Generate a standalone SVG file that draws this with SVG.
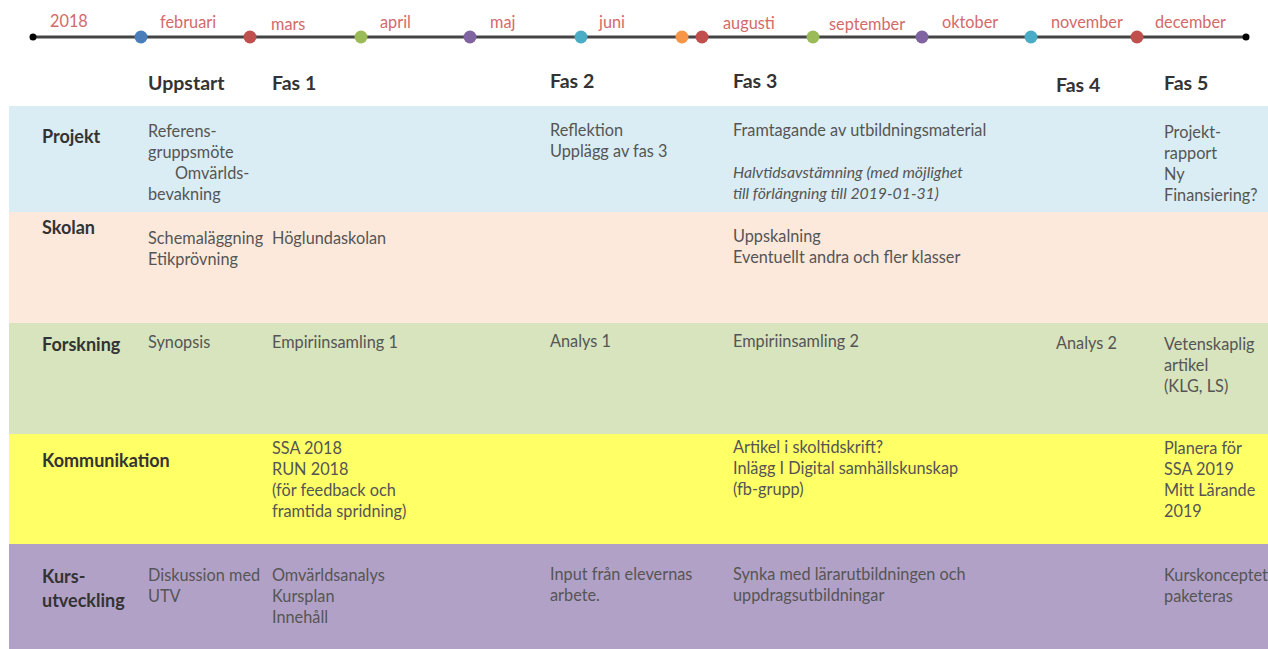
<svg xmlns="http://www.w3.org/2000/svg" width="1268" height="649" viewBox="0 0 1268 649">
<style>
.m{font-family:Lato,"Liberation Sans",sans-serif;font-size:16.3px;fill:#d36a6a}
.h{font-family:Lato,"Liberation Sans",sans-serif;font-size:19.5px;font-weight:bold;fill:#333}
.r{font-family:Lato,"Liberation Sans",sans-serif;font-size:18px;font-weight:bold;fill:#333}
.t{font-family:Lato,"Liberation Sans",sans-serif;font-size:16.3px;fill:#555}
.i{font-style:italic;font-size:15.8px}
</style>
<rect width="1268" height="649" fill="#fff"/>
<g id="bands">
<rect x="9" y="106" width="1259" height="106" fill="#daedf4"/>
<rect x="9" y="212" width="1259" height="111" fill="#fde9db"/>
<rect x="9" y="323" width="1259" height="111" fill="#d7e4bd"/>
<rect x="9" y="434" width="1259" height="110" fill="#ffff66"/>
<rect x="9" y="544" width="1259" height="105" fill="#b2a1c7"/>
</g>
<g id="timeline">
<line x1="33" y1="37" x2="1246" y2="37" stroke="#444" stroke-width="3"/>
<circle cx="33" cy="37" r="3.5" fill="#000"/>
<circle cx="1246" cy="37" r="3.5" fill="#000"/>
<circle cx="141" cy="37" r="6.5" fill="#4a7ebb"/>
<circle cx="250" cy="37" r="6.5" fill="#c0504d"/>
<circle cx="361" cy="37" r="6.5" fill="#9bbb59"/>
<circle cx="470" cy="37" r="6.5" fill="#8064a2"/>
<circle cx="581" cy="37" r="6.5" fill="#4bacc6"/>
<circle cx="682" cy="37" r="6.5" fill="#f79646"/>
<circle cx="702" cy="37" r="6.5" fill="#c0504d"/>
<circle cx="813" cy="37" r="6.5" fill="#9bbb59"/>
<circle cx="922" cy="37" r="6.5" fill="#8064a2"/>
<circle cx="1031" cy="37" r="6.5" fill="#4bacc6"/>
<circle cx="1137" cy="37" r="6.5" fill="#c0504d"/>
<text class="m" x="50" y="27">2018</text>
<text class="m" x="160" y="28">februari</text>
<text class="m" x="271" y="30">mars</text>
<text class="m" x="380" y="28">april</text>
<text class="m" x="490" y="28">maj</text>
<text class="m" x="599" y="28">juni</text>
<text class="m" x="723" y="29">augusti</text>
<text class="m" x="829" y="30">september</text>
<text class="m" x="942" y="28">oktober</text>
<text class="m" x="1051" y="28">november</text>
<text class="m" x="1155" y="28">december</text>
</g>
<g id="headers">
<text class="h" x="148" y="90">Uppstart</text>
<text class="h" x="272" y="90">Fas 1</text>
<text class="h" x="550" y="88">Fas 2</text>
<text class="h" x="733" y="88">Fas 3</text>
<text class="h" x="1056" y="92">Fas 4</text>
<text class="h" x="1164" y="90">Fas 5</text>
</g>
<g id="projekt">
<text class="r" x="42" y="143">Projekt</text>
<text class="t" x="148" y="137">Referens-</text>
<text class="t" x="148" y="158">gruppsmöte</text>
<text class="t" x="175" y="179">Omvärlds-</text>
<text class="t" x="148" y="200">bevakning</text>
<text class="t" x="550" y="136">Reflektion</text>
<text class="t" x="550" y="157">Upplägg av fas 3</text>
<text class="t" x="733" y="136">Framtagande av utbildningsmaterial</text>
<text class="t i" x="733" y="178">Halvtidsavstämning (med möjlighet</text>
<text class="t i" x="733" y="199">till förlängning till 2019-01-31)</text>
<text class="t" x="1164" y="138">Projekt-</text>
<text class="t" x="1164" y="159">rapport</text>
<text class="t" x="1164" y="180">Ny</text>
<text class="t" x="1164" y="201">Finansiering?</text>
</g>
<g id="skolan">
<text class="r" x="42" y="234">Skolan</text>
<text class="t" x="148" y="244">Schemaläggning</text>
<text class="t" x="148" y="265">Etikprövning</text>
<text class="t" x="272" y="244">Höglundaskolan</text>
<text class="t" x="733" y="242">Uppskalning</text>
<text class="t" x="733" y="263">Eventuellt andra och fler klasser</text>
</g>
<g id="forskning">
<text class="r" x="42" y="351">Forskning</text>
<text class="t" x="148" y="348">Synopsis</text>
<text class="t" x="272" y="348">Empiriinsamling 1</text>
<text class="t" x="550" y="347">Analys 1</text>
<text class="t" x="733" y="347">Empiriinsamling 2</text>
<text class="t" x="1056" y="349">Analys 2</text>
<text class="t" x="1164" y="350">Vetenskaplig</text>
<text class="t" x="1164" y="371">artikel</text>
<text class="t" x="1164" y="392">(KLG, LS)</text>
</g>
<g id="kommunikation">
<text class="r" x="42" y="467">Kommunikation</text>
<text class="t" x="272" y="454">SSA 2018</text>
<text class="t" x="272" y="475">RUN 2018</text>
<text class="t" x="272" y="496">(för feedback och</text>
<text class="t" x="272" y="517">framtida spridning)</text>
<text class="t" x="733" y="453">Artikel i skoltidskrift?</text>
<text class="t" x="733" y="474">Inlägg I Digital samhällskunskap</text>
<text class="t" x="733" y="495">(fb-grupp)</text>
<text class="t" x="1164" y="454">Planera för</text>
<text class="t" x="1164" y="475">SSA 2019</text>
<text class="t" x="1164" y="496">Mitt Lärande</text>
<text class="t" x="1164" y="517">2019</text>
</g>
<g id="kursutveckling">
<text class="r" x="42" y="583">Kurs-</text>
<text class="r" x="42" y="607">utveckling</text>
<text class="t" x="148" y="581">Diskussion med</text>
<text class="t" x="148" y="602">UTV</text>
<text class="t" x="272" y="581">Omvärldsanalys</text>
<text class="t" x="272" y="602">Kursplan</text>
<text class="t" x="272" y="623">Innehåll</text>
<text class="t" x="550" y="580">Input från elevernas</text>
<text class="t" x="550" y="601">arbete.</text>
<text class="t" x="733" y="580">Synka med lärarutbildningen och</text>
<text class="t" x="733" y="601">uppdragsutbildningar</text>
<text class="t" x="1164" y="581">Kurskonceptet</text>
<text class="t" x="1164" y="602">paketeras</text>
</g>
</svg>
